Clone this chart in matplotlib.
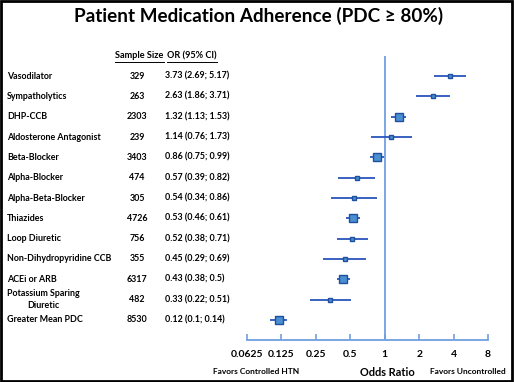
import numpy as np
import matplotlib
matplotlib.use("Agg")
import matplotlib.pyplot as plt
import matplotlib.transforms as mtransforms
from matplotlib.patches import Rectangle

plt.rcParams['font.family'] = ['Lato', 'DejaVu Sans']

# ---- data ----
categories = ["Vasodilator", "Sympatholytics", "DHP-CCB", "Aldosterone Antagonist",
              "Beta-Blocker", "Alpha-Blocker", "Alpha-Beta-Blocker", "Thiazides",
              "Loop Diuretic", "Non-Dihydropyridine CCB", "ACEi or ARB",
              "Potassium Sparing\nDiuretic", "Greater Mean PDC"]
sample_size = [329, 263, 2303, 239, 3403, 474, 305, 4726, 756, 355, 6317, 482, 8530]
odds_ratio = [3.73, 2.63, 1.32, 1.14, 0.86, 0.57, 0.54, 0.53, 0.52, 0.45, 0.43, 0.33, 0.12]
ci_low = [2.69, 1.86, 1.13, 0.76, 0.75, 0.39, 0.34, 0.46, 0.38, 0.29, 0.38, 0.22, 0.1]
ci_high = [5.17, 3.71, 1.53, 1.73, 0.99, 0.82, 0.86, 0.61, 0.71, 0.69, 0.5, 0.51, 0.14]
ci_text = ["3.73 (2.69; 5.17)", "2.63 (1.86; 3.71)", "1.32 (1.13; 1.53)", "1.14 (0.76; 1.73)",
           "0.86 (0.75; 0.99)", "0.57 (0.39; 0.82)", "0.54 (0.34; 0.86)", "0.53 (0.46; 0.61)",
           "0.52 (0.38; 0.71)", "0.45 (0.29; 0.69)", "0.43 (0.38; 0.5)", "0.33 (0.22; 0.51)",
           "0.12 (0.1; 0.14)"]
x_ticks = [0.0625, 0.125, 0.25, 0.5, 1, 2, 4, 8]
x_tick_labels = ["0.0625", "0.125", "0.25", "0.5", "1", "2", "4", "8"]

W, H = 514, 382
fig = plt.figure(figsize=(W / 100, H / 100), dpi=100)
fig.patch.set_facecolor("white")

def fx(px):
    return px / W

def fy(py):
    return 1 - py / H

# axes: x from 247 to 488 px, y from 56 to 340 px
ax = fig.add_axes([fx(247), fy(340), fx(488) - fx(247), (340 - 56) / H])
ax.set_xscale("log", base=2)
ax.set_xlim(0.0625, 8)
n = len(categories)
ypos = np.arange(n)
ax.set_ylim(n - 1 + 0.99, -0.99)

line_col = "#2b55bd"
face_col = "#4a8fd0"
edge_col = "#1f4f9e"
ref_col = "#6f9fe0"

ax.axvline(1, color=ref_col, lw=1.3, zorder=1)
for i in range(n):
    ax.plot([ci_low[i], ci_high[i]], [ypos[i], ypos[i]], color=line_col, lw=1.3, zorder=2,
            solid_capstyle="butt")
    w = np.log(ci_high[i] / ci_low[i])
    ms_px = 1.5 + 2.0 / w
    ax.plot(odds_ratio[i], ypos[i], marker="s", ms=ms_px * 0.72, mfc=face_col, mec=edge_col,
            mew=1.0, zorder=3)

for s in ["top", "right", "left"]:
    ax.spines[s].set_visible(False)
ax.spines["bottom"].set_color(ref_col)
ax.spines["bottom"].set_linewidth(1.3)
ax.set_yticks([])
ax.set_xticks(x_ticks)
ax.set_xticklabels(x_tick_labels, fontsize=7.5, fontweight="bold")
ax.minorticks_off()
ax.tick_params(axis="x", direction="in", length=4, width=1.2, color=ref_col, pad=7)
ax.patch.set_alpha(0)

# left-hand table text
trans = mtransforms.blended_transform_factory(fig.transFigure, ax.transData)
lab_fs = 6.4
for i in range(n):
    ax.text(fx(7), ypos[i], categories[i], transform=trans, ha="left", va="center",
            fontsize=lab_fs, fontweight="bold", multialignment="center", linespacing=1.35)
    ax.text(fx(137), ypos[i], str(sample_size[i]), transform=trans, ha="center", va="center",
            fontsize=lab_fs, fontweight="bold")
    ax.text(fx(165), ypos[i], ci_text[i], transform=trans, ha="left", va="center",
            fontsize=lab_fs, fontweight="bold")

# headers (underlined)
h1 = fig.text(fx(139.5), fy(56), "Sample Size", ha="center", va="center", fontsize=6.6,
              fontweight="bold")
h2 = fig.text(fx(192), fy(56), "OR (95% CI)", ha="center", va="center", fontsize=6.6,
              fontweight="bold")
fig.canvas.draw()
r = fig.canvas.get_renderer()
for h in (h1, h2):
    bb = h.get_window_extent(r)
    fig.add_artist(plt.Line2D([bb.x0 / W, bb.x1 / W], [fy(61.5), fy(61.5)], color="black",
                              lw=0.7, transform=fig.transFigure))

# title
fig.text(fx(259), fy(16), "Patient Medication Adherence (PDC \u2265 80%)", ha="center",
         va="center", fontsize=13.6, fontweight="bold")

# bottom annotations
fig.text(fx(387), fy(372.5), "Odds Ratio", ha="center", va="center", fontsize=7.9,
         fontweight="bold")
fig.text(fx(256.5), fy(371), "Favors Controlled HTN", ha="center", va="center", fontsize=6.0,
         fontweight="bold")
fig.text(fx(468), fy(372), "Favors Uncontrolled", ha="center", va="center", fontsize=6.0,
         fontweight="bold")

# figure border
fig.add_artist(Rectangle((fx(1), fy(381)), fx(511), (380) / H, transform=fig.transFigure,
                         fill=False, ec="black", lw=2))

fig.savefig("out.png", dpi=100)
